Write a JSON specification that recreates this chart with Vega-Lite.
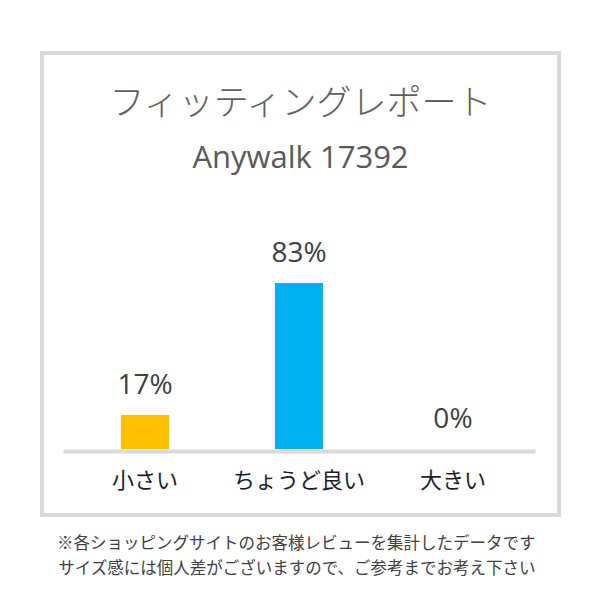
{
  "$schema": "https://vega.github.io/schema/vega-lite/v6.json",
  "width": 517,
  "height": 462,
  "autosize": {"type": "none"},
  "padding": {"left": 42, "top": 53, "right": 41, "bottom": 85},
  "background": "white",
  "config": {
    "view": {"stroke": "#D9D9D9", "strokeWidth": 4}
  },
  "title": {
    "text": "フィッティングレポート",
    "subtitle": "Anywalk 17392",
    "anchor": "middle",
    "frame": "group",
    "offset": -121,
    "font": "Noto Sans CJK JP",
    "fontSize": 35,
    "fontWeight": 300,
    "color": "#606060",
    "subtitleFont": "Open Sans",
    "subtitleFontSize": 31,
    "subtitleColor": "#595959",
    "subtitlePadding": 22
  },
  "data": {
    "values": [
      {"size": "小さい", "share": 0.17},
      {"size": "ちょうど良い", "share": 0.83},
      {"size": "大きい", "share": 0}
    ]
  },
  "encoding": {
    "x": {
      "field": "size",
      "type": "nominal",
      "sort": null,
      "scale": {"range": [21, 493], "paddingInner": 0.688, "paddingOuter": 0.377},
      "axis": {
        "title": ["※各ショッピングサイトのお客様レビューを集計したデータです", "サイズ感には個人差がございますので、ご参考までお考え下さい"],
        "orient": "bottom",
        "offset": -64,
        "grid": false,
        "domainColor": "#D9D9D9",
        "domainWidth": 4,
        "ticks": false,
        "labelPadding": 19,
        "labelAngle": 0,
        "labelFont": "Noto Sans CJK JP",
        "labelFontSize": 22,
        "labelColor": "#1c1c2c",
        "titleFont": "Noto Sans CJK JP",
        "titleFontSize": 16.5,
        "titleFontWeight": "normal",
        "titleColor": "#404040",
        "titlePadding": 44,
        "titleLineHeight": 25,
        "titleAnchor": "end",
        "titleAlign": "right"
      }
    },
    "y": {
      "field": "share",
      "type": "quantitative",
      "scale": {"domain": [0, 1], "range": [396, 196]},
      "axis": null
    }
  },
  "layer": [
    {
      "mark": {"type": "bar"},
      "encoding": {
        "color": {
          "field": "size",
          "type": "nominal",
          "scale": {"domain": ["小さい", "ちょうど良い", "大きい"], "range": ["#FFC000", "#00B0F0", "#A5A5A5"]},
          "legend": null
        }
      }
    },
    {
      "mark": {"type": "text", "dy": -21, "baseline": "alphabetic", "font": "Open Sans", "fontSize": 28, "color": "#404040"},
      "encoding": {
        "text": {"field": "share", "type": "quantitative", "format": ".0%"}
      }
    }
  ]
}
